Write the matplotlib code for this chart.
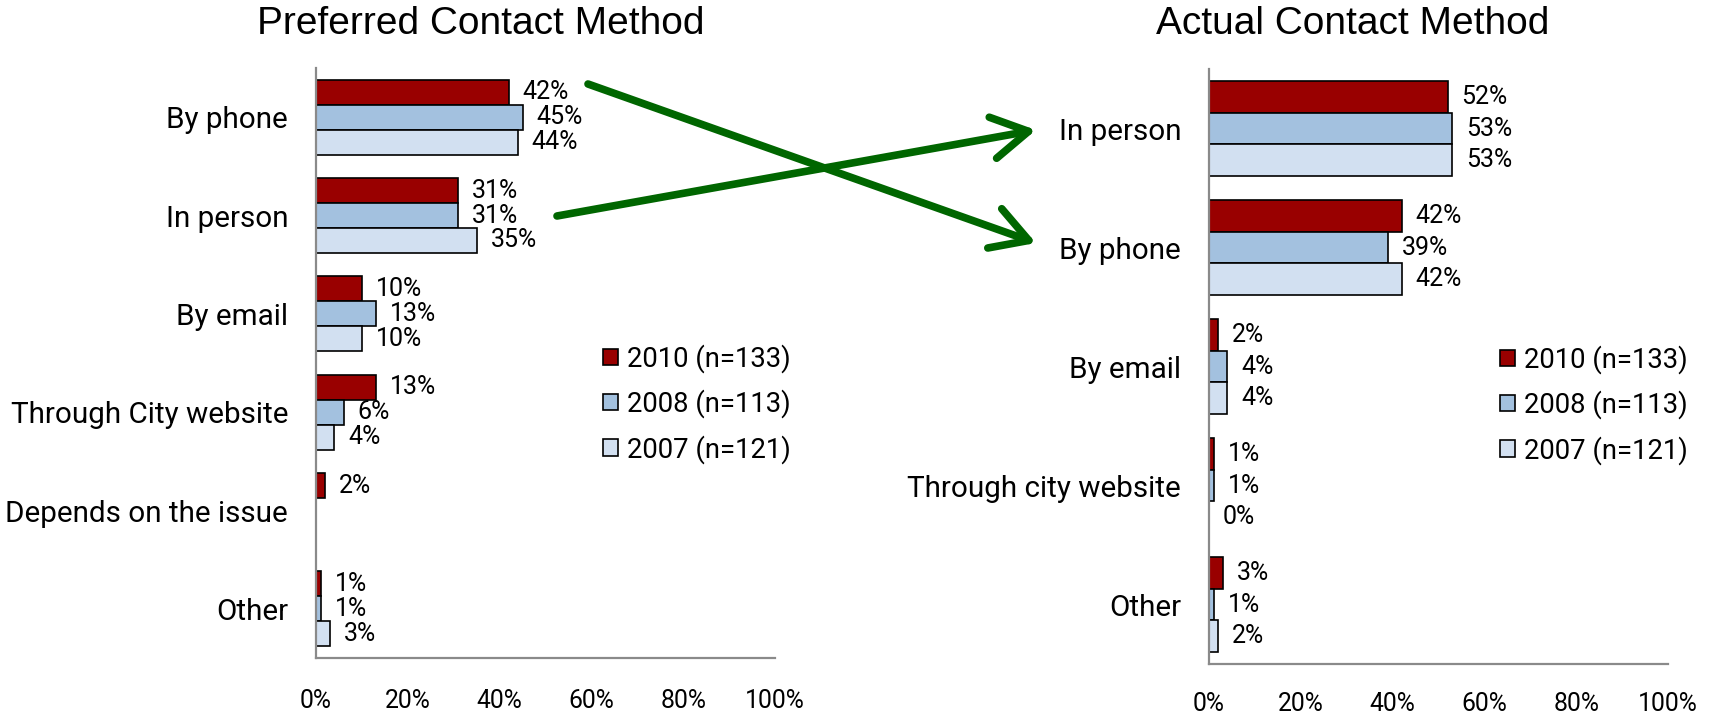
import numpy as np
import matplotlib
matplotlib.use('Agg')
import matplotlib.pyplot as plt
from matplotlib.patches import FancyArrowPatch, ArrowStyle

plt.rcParams['font.family'] = ['Roboto', 'DejaVu Sans']

# data (percent)
series_names = ['2010 (n=133)', '2008 (n=113)', '2007 (n=121)']
colors = ['#990000', '#a3c1df', '#d2e0f1']

pref_cats = ['By phone', 'In person', 'By email', 'Through City website',
             'Depends on the issue', 'Other']
pref_2010 = [42, 31, 10, 13, 2, 1]
pref_2008 = [45, 31, 13, 6, None, 1]
pref_2007 = [44, 35, 10, 4, None, 3]

act_cats = ['In person', 'By phone', 'By email', 'Through city website', 'Other']
act_2010 = [52, 42, 2, 1, 3]
act_2008 = [53, 39, 4, 1, 1]
act_2007 = [53, 42, 4, 0, 2]

tick_vals = [0, 20, 40, 60, 80, 100]

W, H = 1718, 720
fig = plt.figure(figsize=(W / 100, H / 100), dpi=100)


def px_axes(x0, y0, x1, y1):
    # pixel box (top-left origin) -> axes
    return fig.add_axes([x0 / W, 1 - y1 / H, (x1 - x0) / W, (y1 - y0) / H])


def draw_panel(ax, cats, vals, bar_h, tickpad):
    n = len(cats)
    y = np.arange(n)
    for k, (v, c) in enumerate(zip(vals, colors)):
        pos = y + (k - 1) * bar_h
        widths = [0 if d is None else d for d in v]
        b = ax.barh(pos, widths, height=bar_h, color=c, edgecolor='black',
                    linewidth=1.2, label=series_names[k])
        for rect, d in zip(b, v):
            if d is None:
                rect.set_visible(False)
                continue
            ax.annotate(f'{d}%', (d, rect.get_y() + bar_h / 2),
                        xytext=(10, 0), textcoords='offset points',
                        va='center', ha='left', fontsize=18)
    ax.set_xlim(0, 100)
    ax.set_ylim(n - 0.5, -0.5)
    ax.set_yticks(y)
    ax.set_yticklabels(cats, fontsize=21.3)
    ax.set_xticks(tick_vals)
    ax.set_xticklabels([f'{t}%' for t in tick_vals], fontsize=17.8)
    ax.tick_params(axis='both', length=0)
    ax.tick_params(axis='y', pad=20)
    ax.tick_params(axis='x', pad=tickpad)
    for s in ['top', 'right']:
        ax.spines[s].set_visible(False)
    for s in ['left', 'bottom']:
        ax.spines[s].set_color('#8a8a8a')
        ax.spines[s].set_linewidth(1.6)


ax1 = px_axes(316, 68, 775, 658)
draw_panel(ax1, pref_cats, [pref_2010, pref_2008, pref_2007], 0.254, 22)

ax2 = px_axes(1209, 69, 1668, 664)
draw_panel(ax2, act_cats, [act_2010, act_2008, act_2007], 0.266, 20)

for ax, (lx, ly) in [(ax1, (603, 404)), (ax2, (1500, 405))]:
    ax.legend(loc='center left', bbox_to_anchor=(lx / W, 1 - ly / H),
              bbox_transform=fig.transFigure, frameon=False, fontsize=19.8,
              handlelength=0.54, handleheight=0.54, handletextpad=0.33,
              labelspacing=0.6, borderpad=0, borderaxespad=0)

title_font = ['Liberation Sans', 'DejaVu Sans']
fig.text(481 / W, 1 - 24 / H, 'Preferred Contact Method', ha='center',
         va='center', fontsize=28, family=title_font)
fig.text(1353 / W, 1 - 24 / H, 'Actual Contact Method', ha='center',
         va='center', fontsize=28, family=title_font)

# green arrows linking the two rankings
style = ArrowStyle('->', head_length=2.6, head_width=1.5)
for (xa, ya), (xb, yb) in [((588, 84), (1036, 243)), ((557, 216), (1036, 130))]:
    arr = FancyArrowPatch((xa / W, 1 - ya / H), (xb / W, 1 - yb / H),
                          transform=fig.transFigure, arrowstyle=style,
                          mutation_scale=10, color='#006600', linewidth=5.5,
                          shrinkA=0, shrinkB=0, capstyle='round',
                          joinstyle='round')
    fig.add_artist(arr)

fig.savefig('out.png', dpi=100)
